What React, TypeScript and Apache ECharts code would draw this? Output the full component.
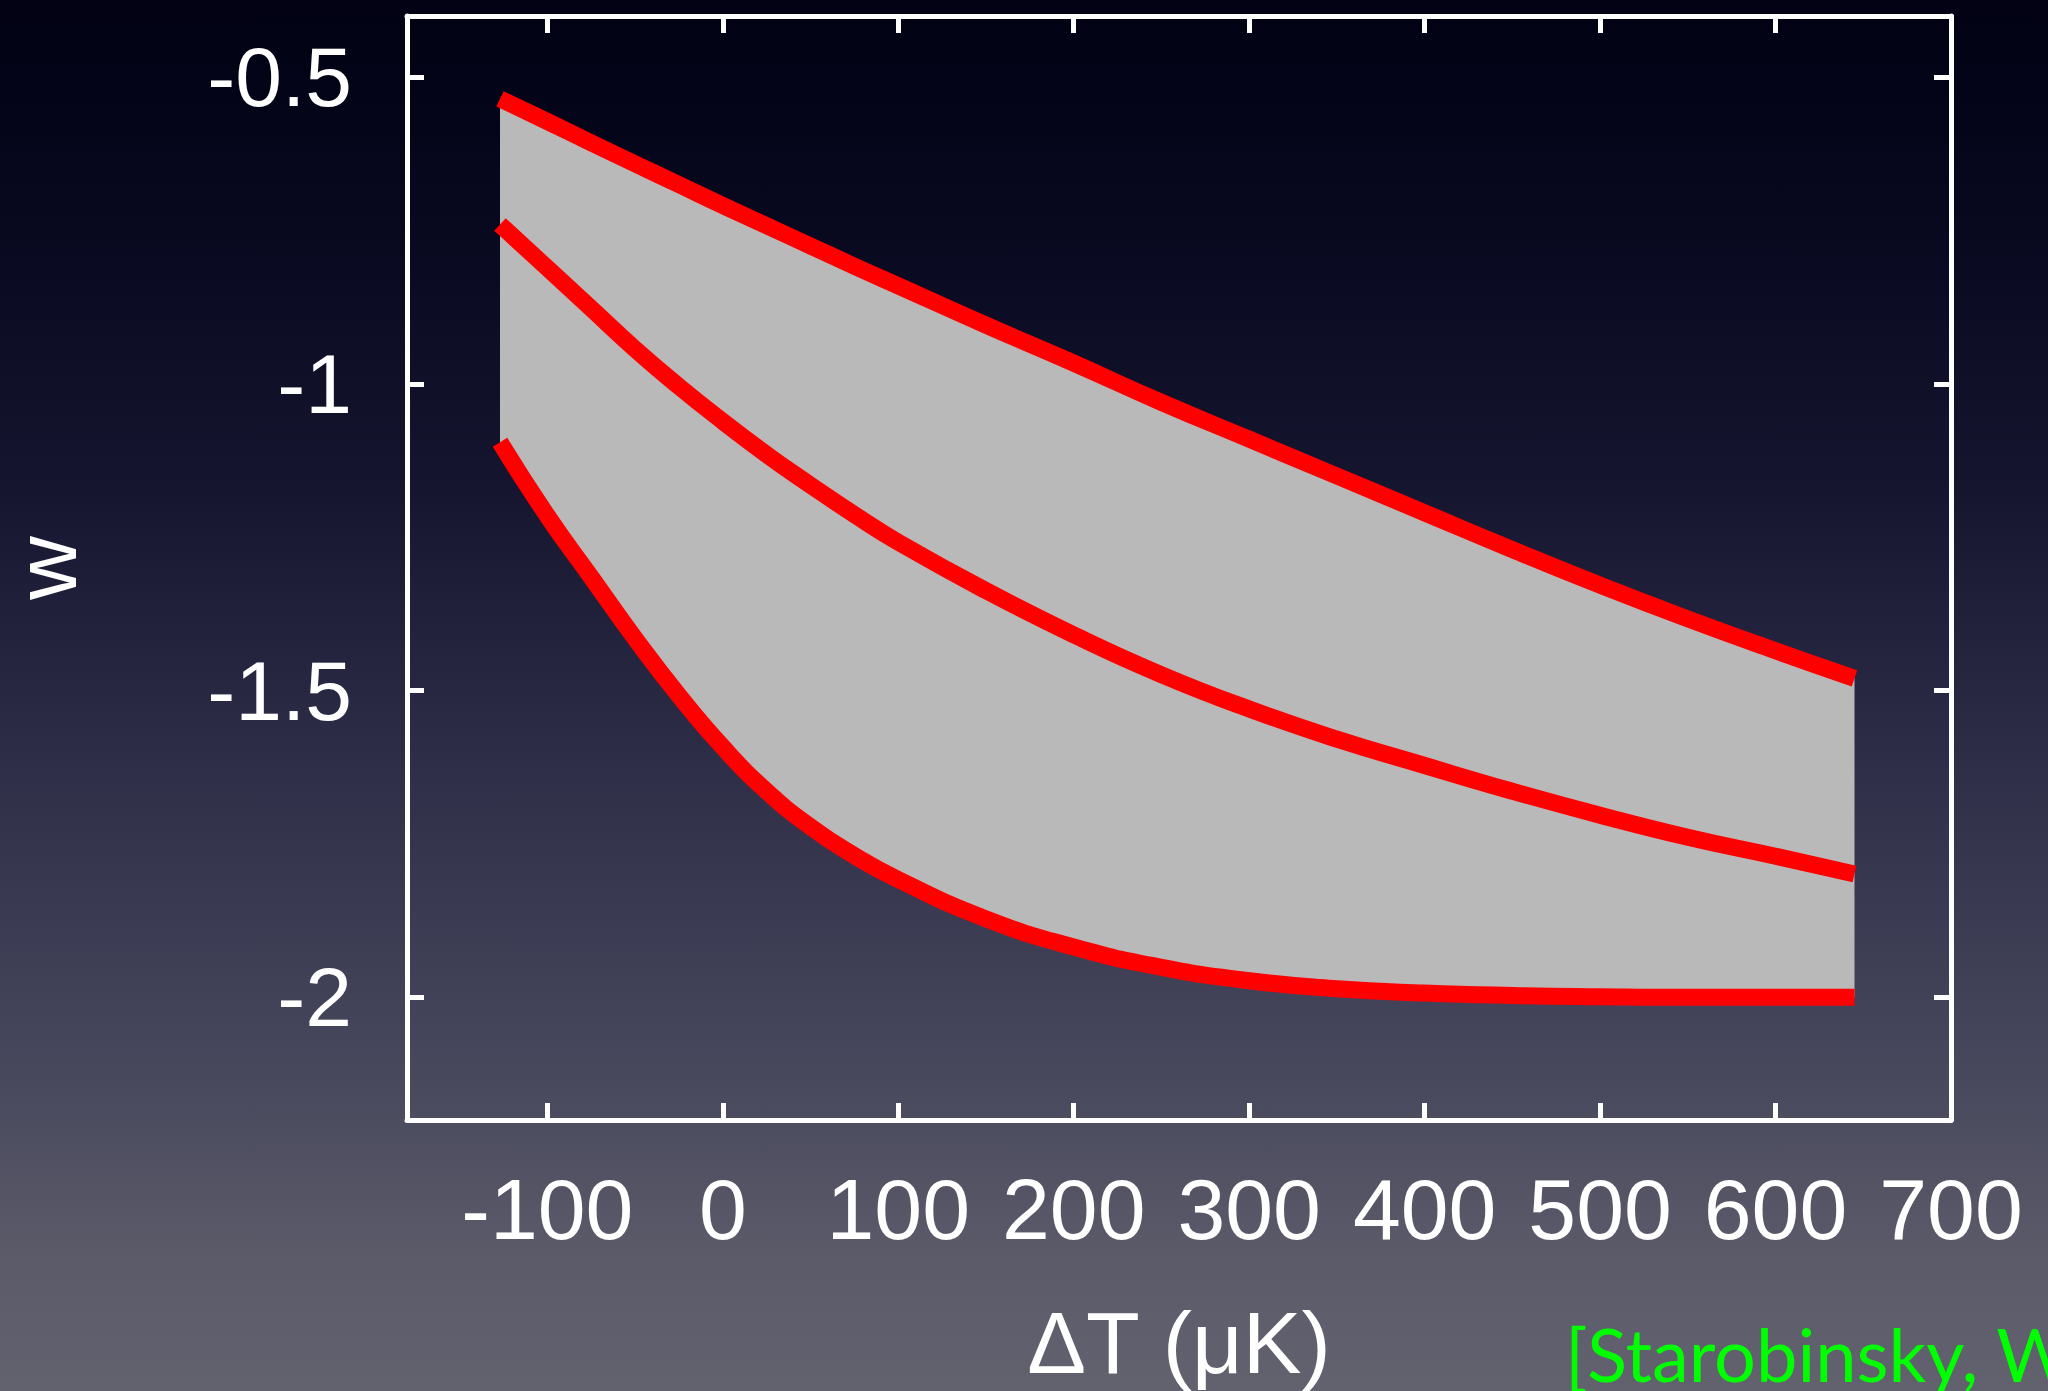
import React, { useEffect, useRef } from "react";
import * as echarts from "echarts";

// ΔT (μK) sample positions
const deltaT = [-127, -100, -75, -50, -25, 0, 25, 50, 75, 100, 150, 200, 250, 300, 350, 400, 450, 500, 550, 600, 645];
// upper bound of w
const wUpper = [-0.535, -0.572, -0.607, -0.641, -0.675, -0.709, -0.742, -0.775, -0.808, -0.84, -0.904, -0.966, -1.03, -1.09, -1.15, -1.21, -1.27, -1.328, -1.383, -1.435, -1.48];
// middle curve
const wMiddle = [-0.74, -0.811, -0.877, -0.943, -1.004, -1.061, -1.115, -1.165, -1.213, -1.258, -1.337, -1.409, -1.474, -1.53, -1.579, -1.622, -1.664, -1.703, -1.739, -1.77, -1.799];
// lower bound of w
const wLower = [-1.095, -1.215, -1.315, -1.415, -1.508, -1.592, -1.664, -1.722, -1.769, -1.808, -1.872, -1.918, -1.951, -1.973, -1.986, -1.993, -1.997, -1.999, -2.0, -2.0, -2.0];

const xTicks = [-100, 0, 100, 200, 300, 400, 500, 600];
const xLabels = [-100, 0, 100, 200, 300, 400, 500, 600, 700];
const yTicks = [-2, -1.5, -1, -0.5];

const xTitle = "ΔT (μK)";
const yTitle = "w";
const citation = "[Starobinsky, WV";

export default function App() {
  const ref = useRef<HTMLDivElement>(null);

  useEffect(() => {
    if (!ref.current) return;
    const chart = echarts.init(ref.current, null, { renderer: "svg" });

    const pair = (ys: number[]) => deltaT.map((t, i) => [t, ys[i]]);
    const white = "#ffffff";
    const font = "Liberation Sans";
    const smooth = 0.5;

    const redLine = (name: string, ys: number[]) => ({
      name,
      type: "line",
      data: pair(ys),
      symbol: "none",
      smooth,
      lineStyle: { color: "#ff0000", width: 17, cap: "butt", join: "round" },
      z: 5,
      silent: true,
    });

    const tickStyle = { color: white, width: 5 };

    chart.setOption({
      animation: false,
      backgroundColor: "transparent",
      grid: { left: 407, right: 97, top: 16, bottom: 271, containLabel: false, outerBoundsMode: "none" },
      xAxis: [
        {
          type: "value",
          min: -180,
          max: 700,
          position: "bottom",
          axisLine: { show: true, onZero: false, lineStyle: { color: white, width: 5 } },
          axisTick: { show: true, inside: true, length: 17, customValues: xTicks, lineStyle: tickStyle },
          axisLabel: {
            show: true,
            customValues: xLabels,
            color: white,
            fontSize: 86,
            fontFamily: font,
            margin: 46,
            formatter: (v: number) => String(v),
          },
          splitLine: { show: false },
          name: xTitle,
          nameLocation: "middle",
          nameGap: 178,
          nameTextStyle: { color: white, fontSize: 88, fontFamily: font },
        },
        {
          type: "value",
          min: -180,
          max: 700,
          position: "top",
          axisLine: { show: true, onZero: false, lineStyle: { color: white, width: 5 } },
          axisTick: { show: true, inside: true, length: 17, customValues: xTicks, lineStyle: tickStyle },
          axisLabel: { show: false },
          splitLine: { show: false },
        },
      ],
      yAxis: [
        {
          type: "value",
          min: -2.2,
          max: -0.4,
          position: "left",
          axisLine: { show: true, onZero: false, lineStyle: { color: white, width: 5 } },
          axisTick: { show: true, inside: true, length: 17, customValues: yTicks, lineStyle: tickStyle },
          axisLabel: {
            show: true,
            customValues: yTicks,
            color: white,
            fontSize: 84,
            fontFamily: font,
            margin: 55,
            formatter: (v: number) => String(v),
          },
          splitLine: { show: false },
          name: yTitle,
          nameLocation: "middle",
          nameGap: 318,
          nameTextStyle: { color: white, fontSize: 88, fontFamily: font },
        },
        {
          type: "value",
          min: -2.2,
          max: -0.4,
          position: "right",
          axisLine: { show: true, onZero: false, lineStyle: { color: white, width: 5 } },
          axisTick: { show: true, inside: true, length: 17, customValues: yTicks, lineStyle: tickStyle },
          axisLabel: { show: false },
          splitLine: { show: false },
        },
      ],
      series: [
        {
          name: "band",
          type: "custom",
          coordinateSystem: "cartesian2d",
          data: [[deltaT[0], wUpper[0]]],
          encode: { x: 0, y: 1 },
          silent: true,
          z: 2,
          renderItem: (_params: any, api: any) => {
            const top = deltaT.map((t, i) => api.coord([t, wUpper[i]]));
            const bottom = deltaT.map((t, i) => api.coord([t, wLower[i]])).reverse();
            return {
              type: "polygon",
              shape: { points: top.concat(bottom) },
              style: { fill: "#b9b9b9", stroke: "none" },
              silent: true,
            };
          },
        },
        redLine("upper", wUpper),
        redLine("middle", wMiddle),
        redLine("lower", wLower),
      ],
      graphic: [
        {
          type: "text",
          left: 1565,
          top: 1316,
          silent: true,
          style: {
            text: citation,
            fill: "#00ff00",
            font: "74px Lato",
          },
        },
      ],
    });

    return () => chart.dispose();
  }, []);

  return (
    <div
      style={{
        position: "fixed",
        left: 0,
        top: 0,
        width: 2048,
        height: 1391,
        overflow: "hidden",
        background:
          "linear-gradient(to bottom, #020214 0%, #07071e 15%, #15152f 35%, #2e2e48 55%, #45455b 75%, #5a5a69 90%, #62626f 100%)",
      }}
    >
      <div ref={ref} style={{ width: 2048, height: 1391 }} />
    </div>
  );
}
